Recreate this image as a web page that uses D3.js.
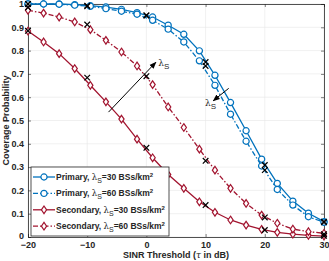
<!DOCTYPE html>
<html>
<head>
<meta charset="utf-8">
<script src="https://cdn.jsdelivr.net/npm/d3@7"></script>
<style>
  body { margin: 0; background: #fff; }
  svg text { font-family: "Liberation Sans", Arial, sans-serif; }
</style>
</head>
<body>
<div id="chart"></div>
<script>
// SINR threshold points of the analytic curves (dB)
var tau = [-20, -17.37, -14.74, -12.11, -9.47, -6.84, -4.21, -1.58, 1.05, 3.68,
           6.32, 8.95, 11.58, 14.21, 16.84, 19.47, 22.11, 24.74, 27.37, 30];
var primary30 = [1.0, 1.0, 1.0, 0.997, 0.993, 0.987, 0.977, 0.963, 0.944, 0.909,
                 0.870, 0.799, 0.694, 0.577, 0.456, 0.334, 0.230, 0.154, 0.102, 0.066];
var primary60 = [1.0, 1.0, 0.999, 0.995, 0.99, 0.98, 0.969, 0.956, 0.93, 0.892,
                 0.837, 0.756, 0.651, 0.527, 0.411, 0.305, 0.204, 0.137, 0.087, 0.063];
var secondary30 = [0.884, 0.837, 0.787, 0.723, 0.651, 0.580, 0.506, 0.42, 0.34, 0.268,
                   0.209, 0.151, 0.106, 0.073, 0.051, 0.033, 0.020, 0.012, 0.007, 0.004];
var secondary60 = [0.973, 0.961, 0.944, 0.923, 0.890, 0.844, 0.794, 0.734, 0.654, 0.558,
                   0.470, 0.377, 0.287, 0.209, 0.144, 0.094, 0.059, 0.034, 0.023, 0.016];

// simulation points (black crosses)
var simTau = [-20, -10, 0, 10, 20, 30];
var simP30 = [1.0, 0.993, 0.951, 0.751, 0.309, 0.066];
var simP60 = [1.0, 0.99, 0.951, 0.734, 0.287, 0.063];
var simS30 = [0.885, 0.684, 0.383, 0.137, 0.030, 0.005];
var simS60 = [0.985, 0.912, 0.69, 0.327, 0.084, 0.012];

var xTicks = [-20, -10, 0, 10, 20, 30];
var yTicks = [0, 0.1, 0.2, 0.3, 0.4, 0.5, 0.6, 0.7, 0.8, 0.9, 1];

var blue = "#0072BD", red = "#A2142F";
var dashDot = "5,2,1.5,2";

var margin = {top: 4, right: 5, bottom: 24, left: 28},
    width = 329 - margin.left - margin.right,
    height = 261 - margin.top - margin.bottom;

var svg = d3.select("#chart").append("svg")
    .attr("width", 329)
    .attr("height", 261)
    .append("g")
    .attr("transform", "translate(" + margin.left + "," + margin.top + ")");

var x = d3.scaleLinear().domain([-20, 30]).range([0, width]);
var y = d3.scaleLinear().domain([0, 1]).range([height, 0]);

//grid
svg.append("g").selectAll("line").data(xTicks).enter().append("line")
    .attr("x1", d => x(d)).attr("x2", d => x(d))
    .attr("y1", 0).attr("y2", height)
    .attr("stroke", "#e6e6e6").attr("stroke-width", 0.6);
svg.append("g").selectAll("line").data(yTicks).enter().append("line")
    .attr("y1", d => y(d)).attr("y2", d => y(d))
    .attr("x1", 0).attr("x2", width)
    .attr("stroke", "#e6e6e6").attr("stroke-width", 0.6);

//axes, ticks inside
var xAxis = d3.axisBottom(x).tickValues(xTicks).tickSize(-3).tickPadding(5).tickFormat(d3.format("d"));
var yAxis = d3.axisLeft(y).tickValues(yTicks).tickSize(-3).tickPadding(4).tickFormat(d => d === 0 || d === 1 ? d : d.toFixed(1));
var gx = svg.append("g").attr("transform", "translate(0," + height + ")").call(xAxis);
var gy = svg.append("g").call(yAxis);
var gxTop = svg.append("g").call(d3.axisTop(x).tickValues(xTicks).tickSize(-3).tickFormat(""));
var gyRight = svg.append("g").attr("transform", "translate(" + width + ",0)")
    .call(d3.axisRight(y).tickValues(yTicks).tickSize(-3).tickFormat(""));
[gx, gy, gxTop, gyRight].forEach(function (g) {
    g.select(".domain").attr("stroke", "#262626").attr("stroke-width", 0.8);
    g.selectAll(".tick line").attr("stroke", "#262626").attr("stroke-width", 0.6);
    g.selectAll("text").attr("fill", "#262626").style("font-size", "9px").style("font-weight", "bold");
});
gy.selectAll(".tick text").filter(d => d === 0).attr("dy", "0.2em");

//curves
var series = [
    {vals: primary30, color: blue, dash: null, marker: "circle"},
    {vals: primary60, color: blue, dash: dashDot, marker: "circle"},
    {vals: secondary30, color: red, dash: null, marker: "diamond"},
    {vals: secondary60, color: red, dash: dashDot, marker: "diamond"}
];
var line = d3.line().x(d => x(d[0])).y(d => y(d[1]));
var circleSym = d3.symbol().type(d3.symbolCircle).size(30);

function drawMarker(g, type, color) {
    if (type === "circle") {
        g.append("path").attr("d", circleSym())
            .attr("fill", "#fff").attr("stroke", color).attr("stroke-width", 1.2);
    } else {
        g.append("path").attr("d", "M0,-3.8L2.6,0L0,3.8L-2.6,0Z")
            .attr("fill", "#fff").attr("stroke", color).attr("stroke-width", 1.2);
    }
}

series.forEach(function (s) {
    var pts = tau.map((t, i) => [t, s.vals[i]]);
    svg.append("path").datum(pts)
        .attr("d", line)
        .attr("fill", "none")
        .attr("stroke", s.color)
        .attr("stroke-width", 1.3)
        .attr("stroke-dasharray", s.dash);
    pts.forEach(function (p) {
        var g = svg.append("g").attr("transform", "translate(" + x(p[0]) + "," + y(p[1]) + ")");
        drawMarker(g, s.marker, s.color);
    });
});

//simulation crosses
[simP30, simP60, simS30, simS60].forEach(function (vals) {
    simTau.forEach(function (t, i) {
        svg.append("path")
            .attr("d", "M-2.8,-2.8L2.8,2.8M-2.8,2.8L2.8,-2.8")
            .attr("transform", "translate(" + x(t) + "," + y(vals[i]) + ")")
            .attr("stroke", "#000").attr("stroke-width", 1.2);
    });
});

//arrows
svg.append("defs").append("marker")
    .attr("id", "head").attr("viewBox", "0 0 10 10")
    .attr("refX", 9).attr("refY", 5)
    .attr("markerWidth", 7).attr("markerHeight", 7)
    .attr("orient", "auto")
    .append("path").attr("d", "M0,1L10,5L0,9Z").attr("fill", "#000");

function arrow(x1, y1, x2, y2) {
    svg.append("line")
        .attr("x1", x(x1)).attr("y1", y(y1))
        .attr("x2", x(x2)).attr("y2", y(y2))
        .attr("stroke", "#000").attr("stroke-width", 1)
        .attr("marker-end", "url(#head)");
}
arrow(-6.4, 0.536, 1.6, 0.75);
arrow(13.9, 0.638, 11.3, 0.585);

function lambdaLabel(px, py) {
    var t = svg.append("text").attr("x", px).attr("y", py).style("font-size", "10px").attr("fill", "#262626");
    t.append("tspan").text("λ").style("font-family", "DejaVu Serif, serif").style("font-size", "9px");
    t.append("tspan").text("S").attr("dy", 3).style("font-size", "8px");
}
lambdaLabel(x(2.0), y(0.735));
lambdaLabel(x(9.9), y(0.562));

//axis titles
svg.append("text")
    .attr("transform", "translate(" + (-19) + "," + (height / 2) + ") rotate(-90)")
    .attr("text-anchor", "middle")
    .style("font-size", "9px").style("font-weight", "bold").attr("fill", "#262626")
    .text("Coverage Probability");
var xt = svg.append("text")
    .attr("x", width / 2).attr("y", height + 21)
    .attr("text-anchor", "middle")
    .style("font-size", "9px").style("font-weight", "bold").attr("fill", "#262626");
xt.append("tspan").text("SINR Threshold (");
xt.append("tspan").text("τ").style("font-style", "italic").style("font-weight", "normal").style("font-family", "DejaVu Serif, serif");
xt.append("tspan").text(" in dB)");

//legend
var legendItems = [
    {name: "Primary, ", dens: "=30 BSs/km", color: blue, dash: null, marker: "circle"},
    {name: "Primary, ", dens: "=60 BSs/km", color: blue, dash: dashDot, marker: "circle"},
    {name: "Secondary, ", dens: "=30 BSs/km", color: red, dash: null, marker: "diamond"},
    {name: "Secondary, ", dens: "=60 BSs/km", color: red, dash: dashDot, marker: "diamond"}
];
var lg = svg.append("g").attr("transform", "translate(3,163)");
lg.append("rect")
    .attr("width", 138).attr("height", 69)
    .attr("fill", "#fff").attr("stroke", "#262626").attr("stroke-width", 0.8);
legendItems.forEach(function (d, i) {
    var row = lg.append("g").attr("transform", "translate(0," + (10 + i * 16.4) + ")");
    row.append("line").attr("x1", 2).attr("x2", 24)
        .attr("stroke", d.color).attr("stroke-width", 1.3).attr("stroke-dasharray", d.dash);
    var mg = row.append("g").attr("transform", "translate(13,0)");
    drawMarker(mg, d.marker, d.color);
    var t = row.append("text").attr("x", 25).attr("y", 3)
        .style("font-size", "8.5px").style("font-weight", "bold").attr("fill", "#262626");
    t.append("tspan").text(d.name);
    t.append("tspan").text("λ").style("font-weight", "normal").style("font-family", "DejaVu Serif, serif");
    t.append("tspan").text("S").attr("dy", 3).style("font-size", "7px").style("font-weight", "normal");
    t.append("tspan").text(d.dens).attr("dy", -3);
    t.append("tspan").text("2").attr("dy", -3).style("font-size", "6px");
});
</script>
</body>
</html>
